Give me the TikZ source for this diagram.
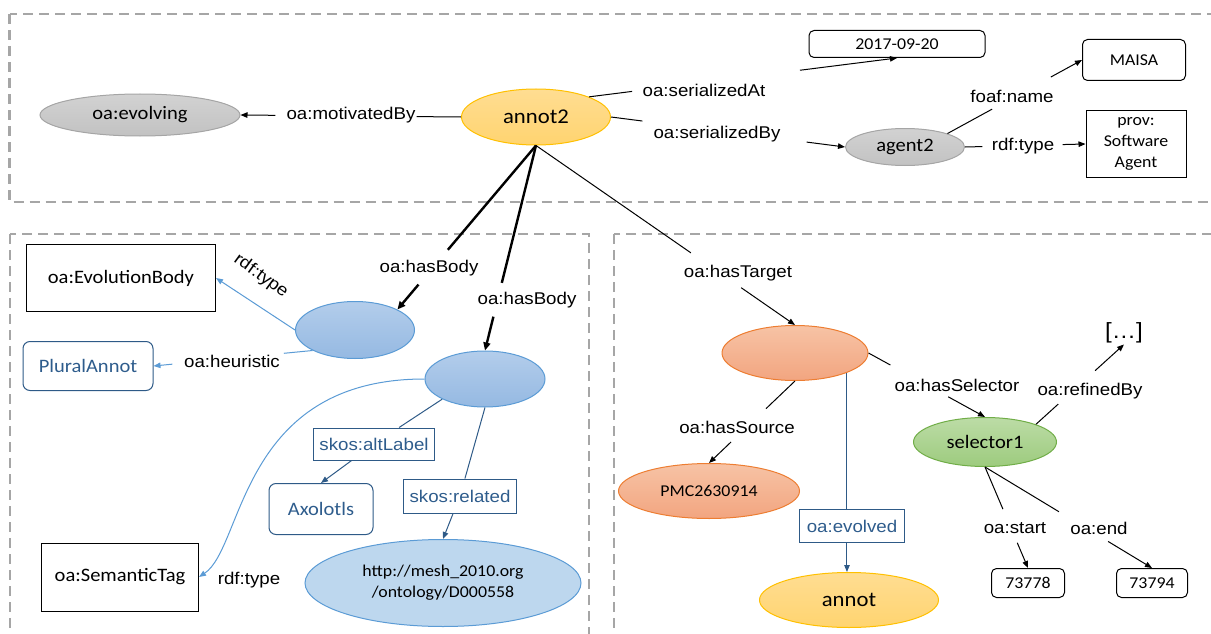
\documentclass[tikz,border=0pt]{standalone}
\usepackage{fontspec}
\setmainfont{Liberation Sans}[FakeStretch=1.1]
\newfontfamily\calibri{Carlito}[FakeStretch=1.08]
\usetikzlibrary{shapes.geometric,arrows.meta,calc}

\definecolor{DashGray}{HTML}{A6A6A6}
\definecolor{GrayTop}{HTML}{D2D2D2}
\definecolor{GrayBot}{HTML}{C2C2C2}
\definecolor{GrayLine}{HTML}{A5A5A5}
\definecolor{GoldTop}{HTML}{FFDD92}
\definecolor{GoldBot}{HTML}{FFD470}
\definecolor{GoldLine}{HTML}{FFC000}
\definecolor{BlueTop}{HTML}{B3CDEB}
\definecolor{BlueBot}{HTML}{95B9E2}
\definecolor{BlueLine}{HTML}{5B9BD5}
\definecolor{PaleBlue}{HTML}{BDD7EE}
\definecolor{SalmonTop}{HTML}{F7C3A5}
\definecolor{SalmonBot}{HTML}{F2A580}
\definecolor{SalmonLine}{HTML}{ED7D31}
\definecolor{GreenTop}{HTML}{BCDCA6}
\definecolor{GreenBot}{HTML}{9DCB7E}
\definecolor{GreenLine}{HTML}{70AD47}
\definecolor{NavyText}{HTML}{2E5C8C}
\definecolor{NavyLine}{HTML}{2E5A87}

\newcommand{\VertexFont}{\calibri\fontsize{19}{22}\selectfont}
\newcommand{\VertexSmall}{\calibri\fontsize{16.5}{21}\selectfont}
\newcommand{\VertexBig}{\calibri\fontsize{21}{24}\selectfont}
\newcommand{\LabelFont}{\fontsize{17}{20}\selectfont}
\newcommand{\GapEdge}[5][]{\draw[EdgeStyle,#1] (#2) -- ($(#2)!#4!(#3)$) ($(#2)!#5!(#3)$) -- (#3);}

\tikzset{
  PlainEdge/.style={line width=1pt},
  EdgeStyle/.style={line width=1pt,-{Triangle[length=7pt,width=5.5pt]}},
  BodyEdge/.style={line width=2.4pt,-{Triangle[length=8pt,width=7pt]}},
  EdgeLabel/.style={font=\LabelFont,inner sep=1pt},
  LabelBox/.style={draw=NavyLine,line width=1pt,text=NavyText,font=\LabelFont,inner sep=0pt},
  Vertex/.style={ellipse,inner sep=0pt,line width=1pt,font=\VertexFont},
  GrayVertex/.style={Vertex,draw=GrayLine,top color=GrayTop,bottom color=GrayBot},
  GoldVertex/.style={Vertex,draw=GoldLine,top color=GoldTop,bottom color=GoldBot,font=\VertexBig},
  BlueVertex/.style={Vertex,draw=BlueLine,top color=BlueTop,bottom color=BlueBot},
  SalmonVertex/.style={Vertex,draw=SalmonLine,top color=SalmonTop,bottom color=SalmonBot},
  GreenVertex/.style={Vertex,draw=GreenLine,top color=GreenTop,bottom color=GreenBot},
  SquareBox/.style={draw,line width=1pt,inner sep=0pt,font=\VertexFont},
  RoundBox/.style={draw,rounded corners=5pt,line width=1pt,inner sep=0pt,font=\VertexSmall},
  NavyBox/.style={draw=NavyLine,rounded corners=7pt,line width=1pt,inner sep=0pt,text=NavyText,font=\VertexFont},
  GroupBox/.style={draw=DashGray,line width=2.4pt,dash pattern=on 10pt off 6pt}
}

\begin{document}
\begin{tikzpicture}[x=1pt,y=-1pt]
\useasboundingbox (0,0) rectangle (1211,634);

\draw[GroupBox] (9.5,14) rectangle (1225,202);
\draw[GroupBox] (10,234) rectangle (589,650);
\draw[GroupBox] (614,234) rectangle (1225,650);

\node[GrayVertex,minimum width=200pt,minimum height=42pt] (evolving) at (140,115) {oa:evolving};
\node[GoldVertex,minimum width=149pt,minimum height=56pt] (annot2) at (536,117) {annot2};
\node[RoundBox,minimum width=176pt,minimum height=27pt] (date) at (897,44) {2017-09-20};
\node[GrayVertex,minimum width=119pt,minimum height=37pt] (agent2) at (905,147) {agent2};
\node[RoundBox,minimum width=103pt,minimum height=41pt] (maisa) at (1134,60) {MAISA};
\node[SquareBox,minimum width=100pt,minimum height=67pt,align=center,font=\VertexSmall] (softagent) at (1136,144) {prov:\\Software\\Agent};

\node[SquareBox,minimum width=189pt,minimum height=67pt] (evobody) at (121,278) {oa:EvolutionBody};
\node[BlueVertex,minimum width=119pt,minimum height=57pt] (body1) at (355,330) {};
\node[BlueVertex,minimum width=120pt,minimum height=56pt] (body2) at (485,379) {};
\node[NavyBox,minimum width=130pt,minimum height=49pt] (plural) at (88,366) {PluralAnnot};
\node[SquareBox,minimum width=157pt,minimum height=68pt] (semtag) at (120,577) {oa:SemanticTag};
\node[NavyBox,minimum width=104pt,minimum height=51pt] (axolotls) at (321,509) {Axolotls};
\node[Vertex,draw=BlueLine,fill=PaleBlue,minimum width=276pt,minimum height=87pt,align=center,font=\VertexSmall] (mesh) at (443,583) {http://mesh\_2010.org\\/ontology/D000558};

\node[SalmonVertex,minimum width=146pt,minimum height=55pt] (target) at (795,353) {};
\node[SalmonVertex,minimum width=181pt,minimum height=55pt,font=\VertexSmall] (pmc) at (709,491) {PMC2630914};
\node[GoldVertex,minimum width=179pt,minimum height=55pt] (annot) at (849,600) {annot};
\node[GreenVertex,minimum width=143pt,minimum height=49pt] (selector1) at (985,442) {selector1};
\node[font=\fontsize{22}{24}\selectfont,inner sep=1pt] (etc) at (1124,333) {[…]};
\node[RoundBox,minimum width=73pt,minimum height=29pt] (n73778) at (1028,583) {73778};
\node[RoundBox,minimum width=71pt,minimum height=29pt] (n73794) at (1152,583) {73794};

\node[EdgeLabel] (lMotivated) at (351,115) {oa:motivatedBy};
\node[EdgeLabel] (lSerAt) at (704,90) {oa:serializedAt};
\node[EdgeLabel] (lSerBy) at (717,134) {oa:serializedBy};
\node[EdgeLabel] (lName) at (1012,96) {foaf:name};
\node[EdgeLabel] (lType) at (1023,146) {rdf:type};
\node[EdgeLabel] (lBody1) at (429,268) {oa:hasBody};
\node[EdgeLabel] (lBody2) at (527,300) {oa:hasBody};
\node[EdgeLabel] (lTarget) at (738,273) {oa:hasTarget};
\node[EdgeLabel,rotate=-36] (lEvoType) at (261,276) {rdf:type};
\node[EdgeLabel] (lHeur) at (232,361) {oa:heuristic};
\node[LabelBox,minimum width=121pt,minimum height=32pt] (lAlt) at (374,444) {skos:altLabel};
\node[LabelBox,minimum width=113pt,minimum height=34pt] (lRel) at (460,496) {skos:related};
\node[EdgeLabel] (lSemType) at (249,580) {rdf:type};
\node[EdgeLabel] (lSource) at (737,427) {oa:hasSource};
\node[LabelBox,minimum width=105pt,minimum height=33pt] (lEvolved) at (852,526) {oa:evolved};
\node[EdgeLabel] (lSelector) at (957,385) {oa:hasSelector};
\node[EdgeLabel] (lRefined) at (1090,391) {oa:refinedBy};
\node[EdgeLabel] (lStart) at (1015,528) {oa:start};
\node[EdgeLabel] (lEnd) at (1099,528) {oa:end};

\GapEdge{annot2.west}{evolving.east}{0.201}{0.842}
\GapEdge{annot2.north east}{date.south}{0.14}{0.685}
\GapEdge{annot2.east}{agent2.west}{0.134}{0.836}
\GapEdge{agent2.north east}{maisa.west}{0.332}{0.768}
\GapEdge{agent2.east}{softagent.west}{0.144}{0.81}
\GapEdge[BodyEdge]{annot2.south}{body1.north east}{0.636}{0.848}
\GapEdge[BodyEdge]{annot2.south}{body2.north}{0.67}{0.835}
\GapEdge{annot2.south}{target.north}{0.598}{0.792}
\draw[EdgeStyle,BlueLine] (body1.west) -- (evobody.east);
\GapEdge[BlueLine]{body1.south west}{plural.east}{0.181}{0.881}
\draw[EdgeStyle,BlueLine] (body2.west) .. controls ($(body2.west)+(-185,0)$) and ($(semtag.east)+(45,-30)$) .. (semtag.east);
\draw[PlainEdge,NavyLine] (body2.south west) -- (lAlt);
\draw[EdgeStyle,NavyLine] (lAlt) -- (axolotls.north);
\draw[PlainEdge,NavyLine] (body2.south) -- (lRel);
\draw[EdgeStyle,NavyLine] (lRel) -- (mesh.north);
\draw[PlainEdge,NavyLine] (target.south east) -- (target.south east |- lEvolved.north);
\draw[EdgeStyle,NavyLine] (target.south east |- lEvolved.south) -- (target.south east |- annot.north);
\GapEdge{target.south}{pmc.north}{0.337}{0.744}
\GapEdge{target.east}{selector1.north}{0.188}{0.684}
\GapEdge{selector1.north east}{etc.south}{0.253}{0.672}
\GapEdge{selector1.south}{n73778.north}{0.417}{0.75}
\GapEdge{selector1.south}{n73794.north}{0.443}{0.737}
\end{tikzpicture}
\end{document}
